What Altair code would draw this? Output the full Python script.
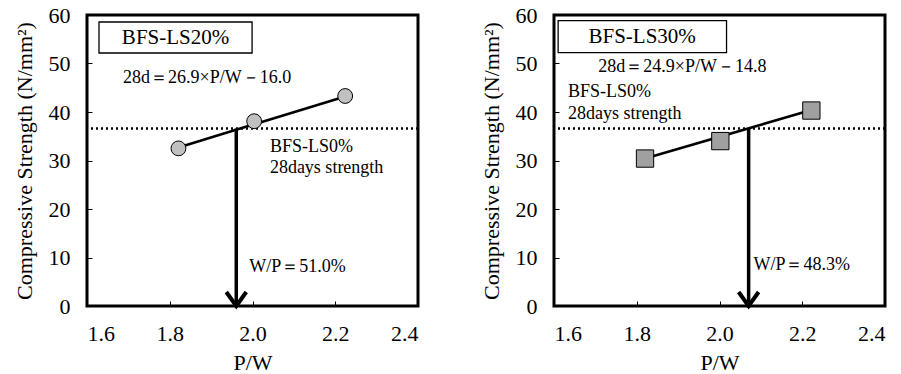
import altair as alt
import pandas as pd

# ---- data ----------------------------------------------------------------
# BFS-LS20% (circles)
pw_20 = [1.821, 2.004, 2.224]
fc_20 = [32.5, 38.1, 43.3]
fit_pw_20 = [1.821, 2.224]
fit_fc_20 = [32.7, 43.2]
wp_20 = 51.0  # W/P in %

# BFS-LS30% (squares)
pw_30 = [1.820, 2.002, 2.222]
fc_30 = [30.4, 34.0, 40.3]
fit_pw_30 = [1.820, 2.222]
fit_fc_30 = [30.4, 40.4]
wp_30 = 48.3

# 28-day strength of BFS-LS0% (reference level)
ref_strength = 36.6

x_ticks = [1.6, 1.8, 2.0, 2.2, 2.4]
y_ticks = [0, 10, 20, 30, 40, 50, 60]

FONT = "'Liberation Serif', 'Times New Roman', serif"
W, H = 331, 291


def panel(label, pw, fc, fit_pw, fit_fc, wp, equation, shape, fill, size,
          box, box_text_at, eq_at, ref_at, wp_at):
    xs = alt.Scale(domain=[1.6, 2.4], nice=False, zero=False)
    ys = alt.Scale(domain=[0, 60], nice=False, zero=False)

    x_lab = alt.Axis(values=x_ticks, format=".1f", ticks=False, tickSize=0,
                     domain=False, grid=False, labelPadding=17, orient="bottom",
                     title="P/W", titlePadding=8)
    y_lab = alt.Axis(values=y_ticks, ticks=False, tickSize=0, domain=False,
                     grid=False, labelPadding=17, orient="left",
                     title="Compressive Strength (N/mm²)", titlePadding=12)
    # inward-pointing tick marks: a second axis pulled inside the frame
    x_tick = alt.Axis(values=x_ticks, labels=False, domain=False, grid=False,
                      ticks=True, tickSize=5, tickWidth=1, tickColor="black",
                      offset=-5, title=None, orient="bottom")
    y_tick = alt.Axis(values=y_ticks, labels=False, domain=False, grid=False,
                      ticks=True, tickSize=5, tickWidth=1, tickColor="black",
                      offset=-5, title=None, orient="left")

    def X(field, axis=None):
        return alt.X(field, scale=xs, axis=axis)

    def Y(field, axis=None):
        return alt.Y(field, scale=ys, axis=axis)

    pts = pd.DataFrame({"pw": pw, "fc": fc})
    fit = pd.DataFrame({"pw": fit_pw, "fc": fit_fc})
    cross = pd.DataFrame({"pw": [100.0 / wp], "top": [ref_strength], "bot": [0.0]})
    boxdf = pd.DataFrame({"x1": [box[0]], "x2": [box[1]], "y1": [box[2]], "y2": [box[3]]})

    # label box carries the labelled axes
    label_box = alt.Chart(boxdf).mark_rect(
        fill="white", stroke="black", strokeWidth=1.3
    ).encode(
        x=X("x1:Q", x_lab), x2="x2:Q",
        y=Y("y1:Q", y_lab), y2="y2:Q",
    )

    # reference strength level (dotted)
    ref = alt.Chart(pd.DataFrame({"fc": [ref_strength]})).mark_rule(
        color="black", strokeWidth=2.4, strokeDash=[2, 3]
    ).encode(y=Y("fc:Q"))

    def text(s, at, size_, align="left"):
        return alt.Chart(pd.DataFrame({"x": [at[0]], "y": [at[1]], "t": [s]})).mark_text(
            font=FONT, fontSize=size_, color="black", align=align, baseline="middle"
        ).encode(x=X("x:Q"), y=Y("y:Q"), text="t:N")

    fit_line = alt.Chart(fit).mark_line(color="black", strokeWidth=2.6).encode(
        x=X("pw:Q"), y=Y("fc:Q")
    )

    arrow = alt.Chart(cross).mark_rule(color="black", strokeWidth=3.5).encode(
        x=X("pw:Q"), y=Y("top:Q"), y2="bot:Q"
    )
    head = alt.Chart(cross).mark_point(
        shape="M-1,-1.4L0,0L1,-1.4", size=400, filled=False, stroke="black",
        strokeWidth=4, strokeJoin="miter", opacity=1
    ).encode(x=X("pw:Q"), y=Y("bot:Q"))

    markers = alt.Chart(pts).mark_point(
        shape=shape, size=size, filled=True, fill=fill, stroke="black",
        strokeWidth=1, opacity=1
    ).encode(x=X("pw:Q", x_tick), y=Y("fc:Q", y_tick))

    layers = [
        label_box,
        ref,
        fit_line,
        arrow,
        head,
        markers,
        text(label, box_text_at, 21, align="center"),
        text(equation, eq_at, 18),
        text("BFS-LS0%", ref_at[0], 18),
        text("28days strength", ref_at[1], 18),
        text(f"W/P＝{wp:.1f}%", wp_at, 18),
    ]
    return alt.layer(*layers).resolve_axis(x="independent", y="independent").properties(
        width=W, height=H
    )


left = panel(
    "BFS-LS20%", pw_20, fc_20, fit_pw_20, fit_fc_20, wp_20,
    "28d＝26.9×P/W－16.0", "circle", "#c0c0c0", 220,
    box=[1.629, 1.999, 58.56, 52.16], box_text_at=(1.814, 55.36),
    eq_at=(1.687, 47.0), ref_at=[(2.042, 32.8), (2.042, 28.45)],
    wp_at=(1.992, 8.04),
)
right = panel(
    "BFS-LS30%", pw_30, fc_30, fit_pw_30, fit_fc_30, wp_30,
    "28d＝24.9×P/W－14.8", "square", "#a0a0a0", 300,
    box=[1.610, 2.017, 58.86, 52.25], box_text_at=(1.813, 55.56),
    eq_at=(1.707, 49.36), ref_at=[(1.634, 44.2), (1.634, 39.66)],
    wp_at=(2.082, 8.47),
)

chart = alt.hconcat(left, right, spacing=57).properties(
    padding={"left": 11, "top": 2, "right": 0, "bottom": 0},
    background="white",
).configure_view(
    stroke="black", strokeWidth=3
).configure_axis(
    labelFont=FONT, labelFontSize=22, labelColor="black",
    titleFont=FONT, titleFontSize=22, titleFontWeight="normal", titleColor="black",
)

chart.save("out.html", embed_options={"renderer": "svg", "actions": False})
